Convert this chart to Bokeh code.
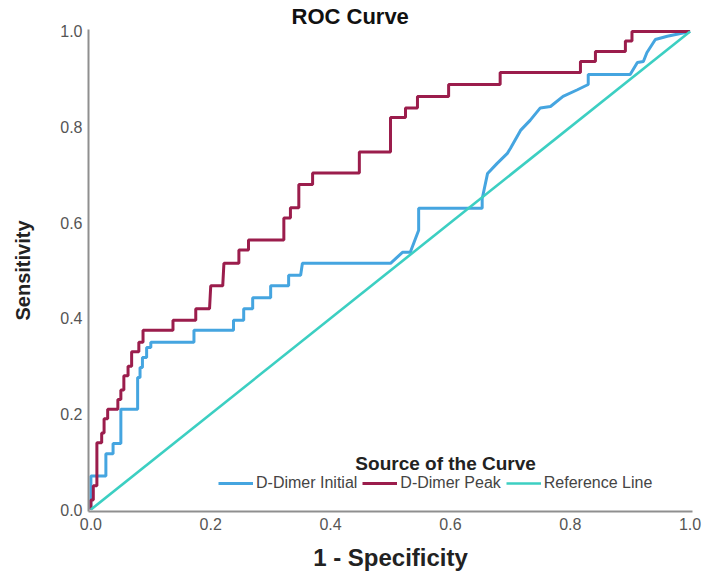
from bokeh.plotting import figure
from bokeh.models import Range1d, Label, Legend, LegendItem, FixedTicker
from bokeh.embed import file_html
from bokeh.resources import INLINE

# ROC curve data (1 - specificity, sensitivity)
initial_fpr = [0, 0, 0.025, 0.025, 0.037, 0.037, 0.05, 0.05, 0.078, 0.078, 0.082, 0.082,
               0.086, 0.086, 0.093, 0.093, 0.1, 0.1, 0.172, 0.172, 0.238, 0.238, 0.255, 0.255,
               0.27, 0.27, 0.3, 0.3, 0.33, 0.33, 0.35, 0.353, 0.5, 0.52, 0.533, 0.547, 0.547,
               0.653, 0.653, 0.662, 0.678, 0.695, 0.7, 0.717, 0.733, 0.75, 0.767, 0.788, 0.812,
               0.83, 0.83, 0.9, 0.912, 0.922, 0.928, 0.942, 0.962, 1.0]
initial_tpr = [0, 0.07, 0.07, 0.117, 0.117, 0.138, 0.138, 0.21, 0.21, 0.276, 0.276, 0.297,
               0.297, 0.318, 0.318, 0.339, 0.339, 0.35, 0.35, 0.375, 0.375, 0.396, 0.396, 0.42,
               0.42, 0.443, 0.443, 0.468, 0.468, 0.49, 0.49, 0.515, 0.515, 0.538, 0.538, 0.584, 0.63,
               0.63, 0.65, 0.703, 0.724, 0.745, 0.755, 0.793, 0.814, 0.84, 0.843, 0.864, 0.878,
               0.889, 0.91, 0.91, 0.935, 0.937, 0.956, 0.983, 0.99, 1.0]

peak_fpr = [0, 0, 0.004, 0.004, 0.01, 0.01, 0.018, 0.018, 0.022, 0.022, 0.028, 0.028, 0.045,
            0.045, 0.05, 0.05, 0.055, 0.055, 0.062, 0.062, 0.068, 0.068, 0.08, 0.08, 0.087, 0.087,
            0.137, 0.137, 0.175, 0.175, 0.198, 0.2, 0.22, 0.222, 0.247, 0.247, 0.263, 0.263,
            0.322, 0.322, 0.333, 0.333, 0.347, 0.347, 0.37, 0.37, 0.448, 0.448, 0.5, 0.5,
            0.525, 0.525, 0.545, 0.545, 0.597, 0.597, 0.683, 0.683, 0.817, 0.817, 0.842, 0.842,
            0.892, 0.892, 0.903, 0.903, 1.0]
peak_tpr = [0, 0.02, 0.02, 0.05, 0.05, 0.14, 0.14, 0.16, 0.16, 0.19, 0.19, 0.21, 0.21,
            0.23, 0.23, 0.25, 0.25, 0.28, 0.28, 0.30, 0.30, 0.33, 0.33, 0.35, 0.35, 0.375,
            0.375, 0.396, 0.396, 0.42, 0.42, 0.468, 0.468, 0.515, 0.515, 0.543, 0.543, 0.564,
            0.564, 0.61, 0.61, 0.631, 0.631, 0.68, 0.68, 0.704, 0.704, 0.748, 0.748, 0.82,
            0.82, 0.84, 0.84, 0.864, 0.864, 0.889, 0.889, 0.914, 0.914, 0.937, 0.937, 0.958,
            0.958, 0.98, 0.98, 1.0, 1.0]

ref_x = [0.0, 1.0]
ref_y = [0.0, 1.0]

tick_values = [0.0, 0.2, 0.4, 0.6, 0.8, 1.0]
series_names = ["D-Dimer Initial", "D-Dimer Peak", "Reference Line"]
colors = ["#45a5e0", "#9b1d4c", "#3ccfc2"]

FONT = "Liberation Sans"

p = figure(width=710, height=578, output_backend="svg", toolbar_location=None,
           x_range=Range1d(-0.004, 1.004), y_range=Range1d(-0.004, 1.004),
           min_border_left=88, min_border_right=18, min_border_top=29, min_border_bottom=67,
           title="ROC Curve")
p.title.align = "left"
p.title.text_font = FONT
p.title.text_font_size = "22px"
p.title.text_font_style = "bold"
p.title.text_color = "#111111"
p.title.standoff = 2
p.title.offset = 203

p.outline_line_color = None
p.xgrid.grid_line_color = None
p.ygrid.grid_line_color = None
p.background_fill_color = "white"
p.border_fill_color = "white"

for ax in (p.xaxis[0], p.yaxis[0]):
    ax.ticker = FixedTicker(ticks=tick_values)
    ax.major_tick_line_color = None
    ax.minor_tick_line_color = None
    ax.major_tick_out = 0
    ax.major_tick_in = 0
    ax.axis_line_color = "#8f8f8f"
    ax.axis_line_width = 2
    ax.major_label_text_font = FONT
    ax.major_label_text_font_size = "16px"
    ax.major_label_text_color = "#555555"
    ax.major_label_standoff = 6
    ax.axis_label_text_font = FONT
    ax.axis_label_text_font_style = "bold"
    ax.axis_label_text_color = "#222222"
ax_fmt = {v: f"{v:.1f}" for v in tick_values}
p.xaxis[0].major_label_overrides = ax_fmt
p.yaxis[0].major_label_overrides = ax_fmt

p.xaxis[0].axis_label = "1 - Specificity"
p.xaxis[0].axis_label_text_font_size = "24px"
p.xaxis[0].axis_label_standoff = 11
p.yaxis[0].axis_label = "Sensitivity"
p.yaxis[0].axis_label_text_font_size = "20px"
p.yaxis[0].axis_label_standoff = 23

r1 = p.line(initial_fpr, initial_tpr, line_color=colors[0], line_width=3)
r2 = p.line(peak_fpr, peak_tpr, line_color=colors[1], line_width=3)
r3 = p.line(ref_x, ref_y, line_color=colors[2], line_width=2.6)

legend = Legend(items=[LegendItem(label=series_names[0], renderers=[r1]),
                       LegendItem(label=series_names[1], renderers=[r2]),
                       LegendItem(label=series_names[2], renderers=[r3])],
                orientation="horizontal", location=(130, 18),
                border_line_color=None, background_fill_alpha=0,
                padding=0, margin=0, spacing=5, label_standoff=3,
                glyph_width=35, glyph_height=20, label_height=20,
                label_text_font=FONT, label_text_font_size="16px",
                label_text_color="#444444")
p.add_layout(legend, "center")

p.add_layout(Label(x=0.592, y=0.096, text="Source of the Curve", text_align="center",
                   text_baseline="alphabetic", text_font=FONT, text_font_size="19px",
                   text_font_style="bold", text_color="#222222"))

open("out.html", "w").write(file_html(p, INLINE))
